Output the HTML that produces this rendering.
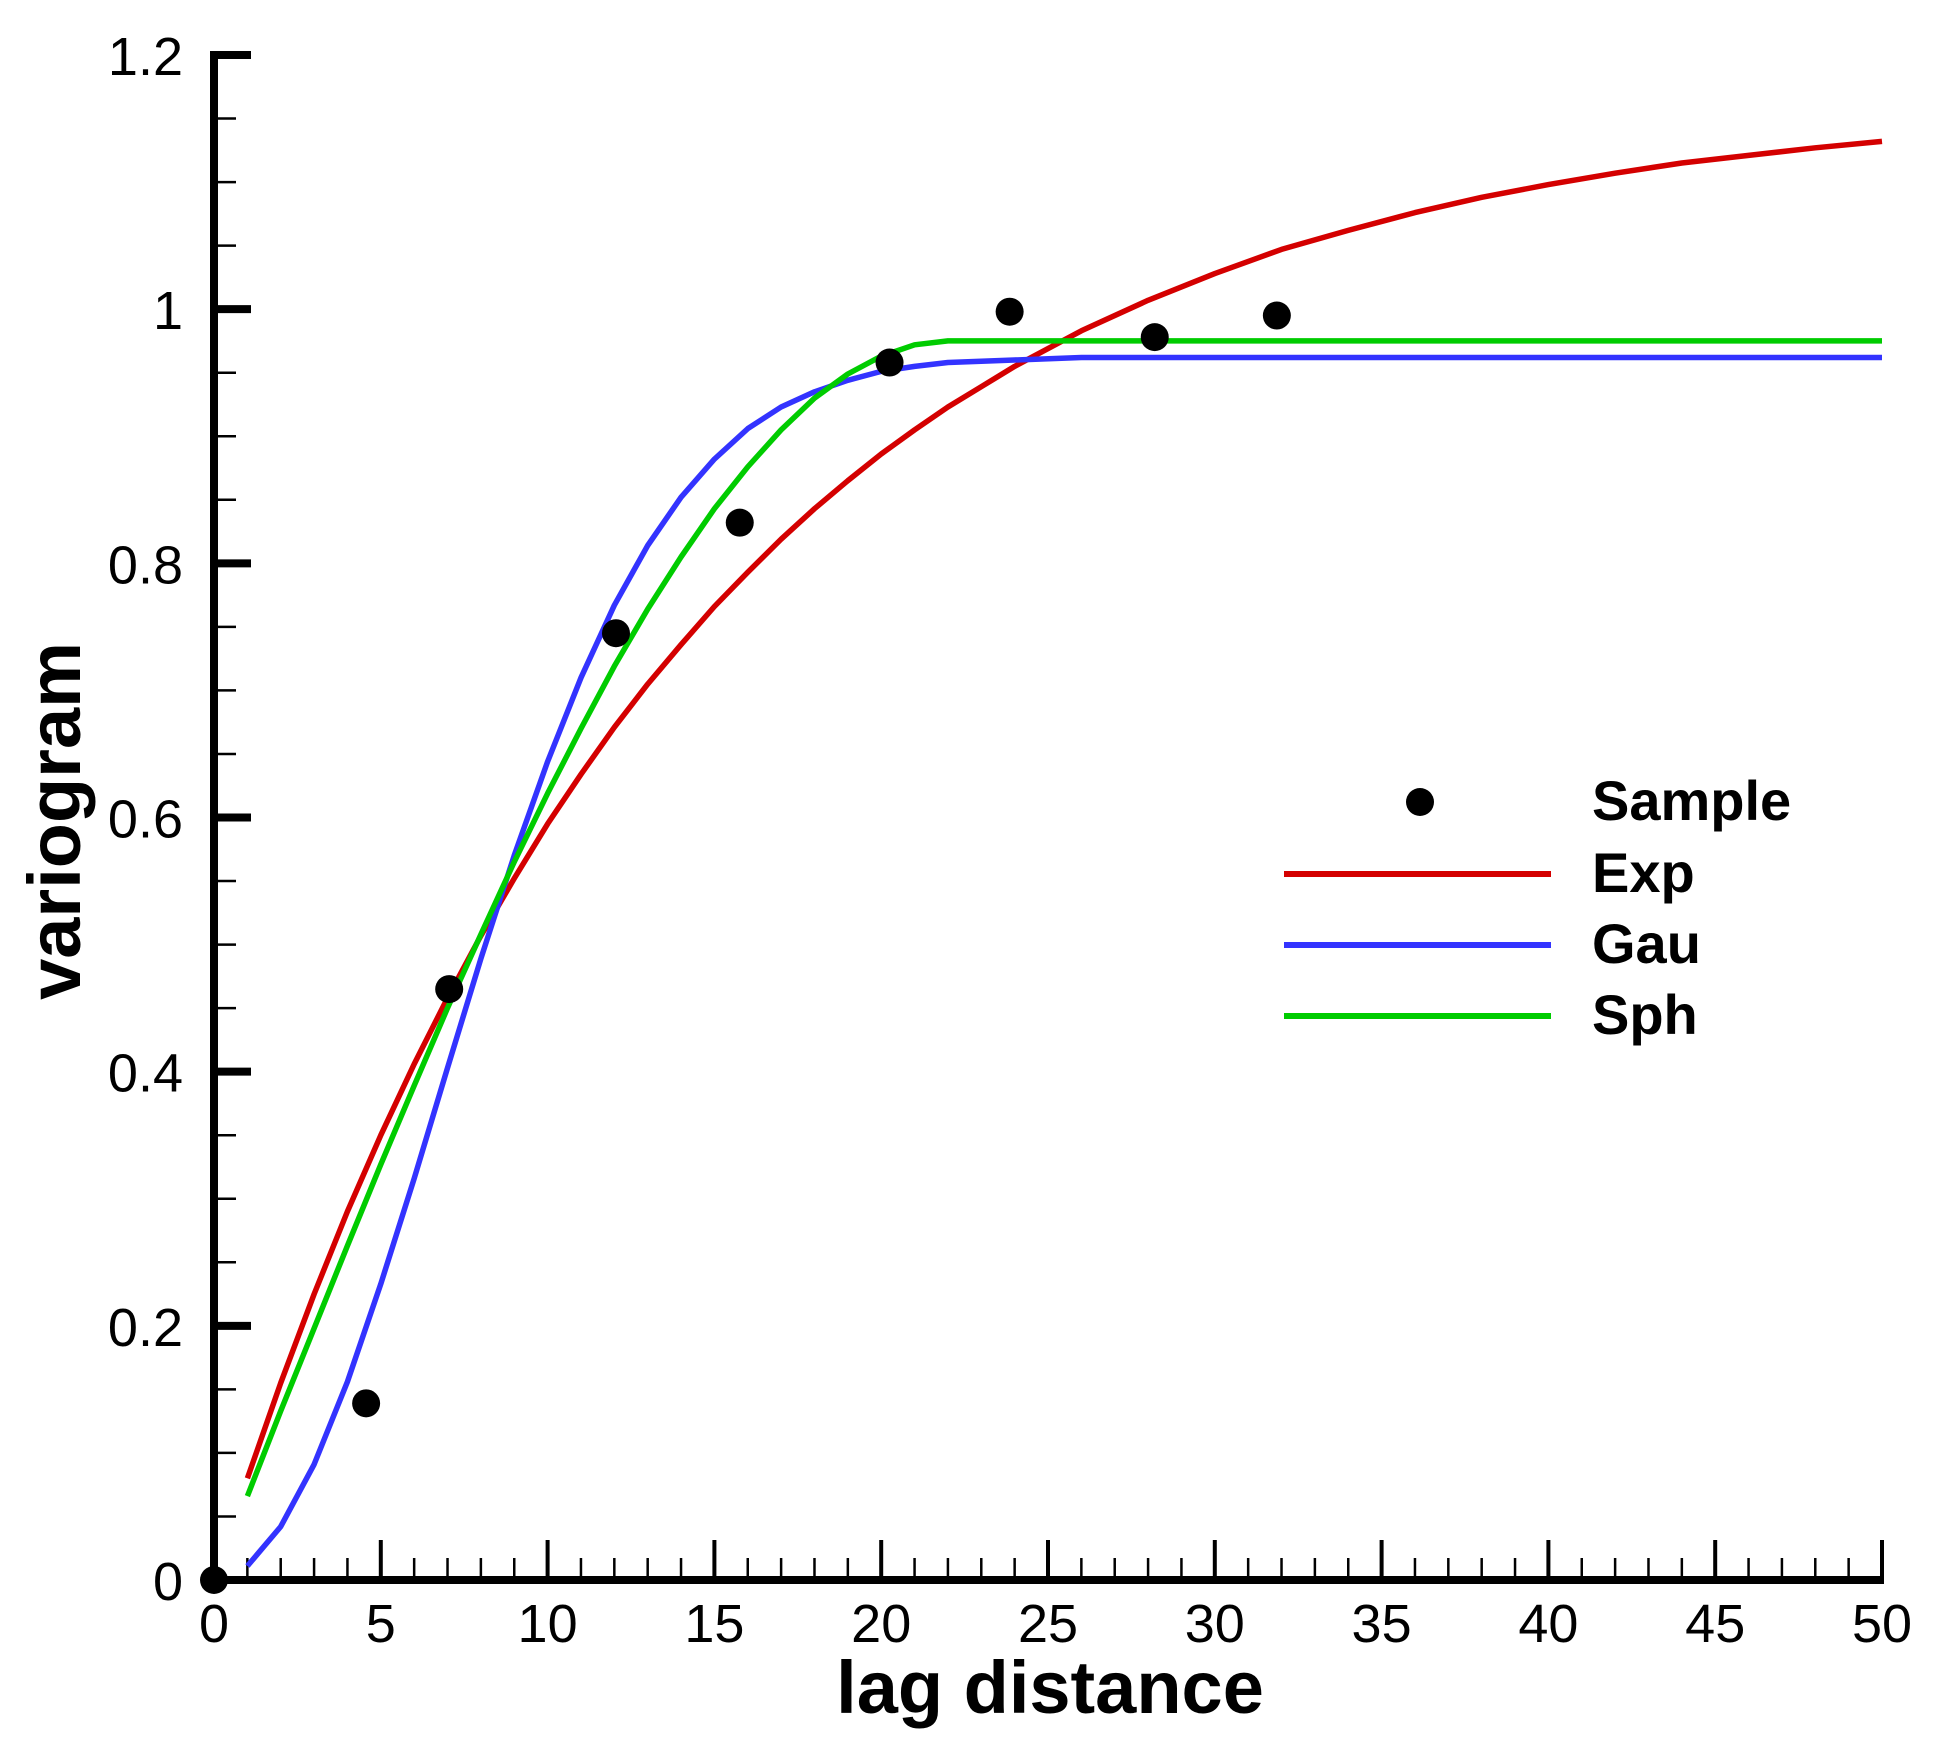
<!DOCTYPE html>
<html><head><meta charset="utf-8"><style>
html,body{margin:0;padding:0;background:#fff;}
svg{display:block;font-family:"Liberation Sans",Arial,sans-serif;}
</style></head><body>
<svg id="chart" width="1940" height="1748" viewBox="0 0 1940 1748" xmlns="http://www.w3.org/2000/svg">
<g id="axes"></g>
<g id="series"></g>
<text x="1050" y="1713" font-size="74" font-weight="bold" text-anchor="middle">lag distance</text>
<text x="0" y="0" font-size="74" font-weight="bold" text-anchor="middle" transform="translate(80,821) rotate(-90)">variogram</text>
<g>
  <circle cx="1420" cy="802" r="14" fill="#000"/>
  <text x="1592" y="820" font-size="56" font-weight="bold">Sample</text>
  <line x1="1284" y1="874" x2="1551" y2="874" stroke="#d40000" stroke-width="6"/>
  <text x="1592" y="892" font-size="56" font-weight="bold">Exp</text>
  <line x1="1284" y1="945" x2="1551" y2="945" stroke="#3333ff" stroke-width="6"/>
  <text x="1592" y="963" font-size="56" font-weight="bold">Gau</text>
  <line x1="1284" y1="1016" x2="1551" y2="1016" stroke="#00cc00" stroke-width="6"/>
  <text x="1592" y="1034" font-size="56" font-weight="bold">Sph</text>
</g>
</svg>
<script>
const xTicks = [0,5,10,15,20,25,30,35,40,45,50];
const yTicks = [0,0.2,0.4,0.6,0.8,1,1.2];
const yTickLabels = ["0","0.2","0.4","0.6","0.8","1","1.2"];
const sampleX = [0,4.56,7.05,12.05,15.76,20.25,23.85,28.2,31.86];
const sampleY = [0,0.139,0.465,0.745,0.832,0.958,0.998,0.978,0.995];
const modelX = [1,2,3,4,5,6,7,8,9,10,11,12,13,14,15,16,17,18,19,20,21,22,23,24,26,28,30,32,34,36,38,40,42,44,46,48,50];
const expY = [0.080,0.155,0.225,0.290,0.350,0.406,0.458,0.507,0.552,0.595,0.634,0.671,0.705,0.736,0.766,0.793,0.819,0.843,0.865,0.886,0.905,0.923,0.939,0.955,0.983,1.007,1.028,1.047,1.062,1.076,1.088,1.098,1.107,1.115,1.121,1.127,1.132];
const gauY = [0.011,0.042,0.091,0.156,0.233,0.316,0.403,0.489,0.570,0.644,0.710,0.767,0.814,0.852,0.882,0.906,0.923,0.935,0.944,0.951,0.955,0.958,0.959,0.960,0.962,0.962,0.962,0.962,0.962,0.962,0.962,0.962,0.962,0.962,0.962,0.962,0.962];
const sphY = [0.066,0.133,0.198,0.263,0.327,0.389,0.450,0.508,0.565,0.619,0.670,0.719,0.764,0.805,0.843,0.876,0.905,0.930,0.949,0.963,0.972,0.975,0.975,0.975,0.975,0.975,0.975,0.975,0.975,0.975,0.975,0.975,0.975,0.975,0.975,0.975,0.975];

const NS='http://www.w3.org/2000/svg';
const X0=214, X1=1882, Y0=1580, Y1=55;
function sx(v){return X0+(v/50)*(X1-X0);}
function sy(v){return Y0-(v/1.2)*(Y0-Y1);}
function mk(tag,attrs,parent){const e=document.createElementNS(NS,tag);for(const k in attrs)e.setAttribute(k,attrs[k]);parent.appendChild(e);return e;}
const axes=document.getElementById('axes');
const series=document.getElementById('series');

for(let i=0;i<=50;i++){
  if(i%5===0) continue;
  const t=mk('line',{x1:sx(i),x2:sx(i),y1:Y0,y2:Y0-22,stroke:'#000','stroke-width':2.5},axes);
  
  
}
for(let i=1;i<24;i++){
  if(i%4===0) continue;
  const v=i*0.05;
  const t=mk('line',{x1:X0,x2:X0+22,y1:sy(v),y2:sy(v),stroke:'#000','stroke-width':2.5},axes);
  
  
}
xTicks.forEach(v=>{
  const t=mk('line',{x1:sx(v),x2:sx(v),y1:Y0,y2:Y0-40,stroke:'#000','stroke-width':4},axes);
  
  
  const l=mk('text',{x:sx(v),y:Y0+62,'font-size':54,'text-anchor':'middle'},axes);
  l.textContent=String(v);
  
  
});
yTicks.forEach((v,i)=>{
  const t=mk('line',{x1:X0,x2:X0+37,y1:sy(v),y2:sy(v),stroke:'#000','stroke-width':8},axes);
  
  
  const l=mk('text',{x:183,y:sy(v)+20,'font-size':54,'text-anchor':'end'},axes);
  l.textContent=yTickLabels[i];
  
  
});
const ya=mk('line',{x1:X0,x2:X0,y1:Y1-4,y2:Y0+4,stroke:'#000','stroke-width':8},axes);


const xa=mk('line',{x1:X0-4,x2:X1+2,y1:Y0,y2:Y0,stroke:'#000','stroke-width':8},axes);



function curve(ys,color,name){
  const d=modelX.map((x,i)=>(i?'L':'M')+sx(x).toFixed(1)+','+sy(ys[i]).toFixed(1)).join(' ');
  const p=mk('path',{d:d,fill:'none',stroke:color,'stroke-width':5.5,'stroke-linejoin':'round'},series);
  
  
}
curve(expY,'#d40000','exp-curve');
curve(gauY,'#3333ff','gau-curve');
curve(sphY,'#00cc00','sph-curve');
sampleX.forEach((x,i)=>{
  const c=mk('circle',{cx:sx(x),cy:sy(sampleY[i]),r:14,fill:'#000'},series);
  
  
});
</script>
</body></html>
